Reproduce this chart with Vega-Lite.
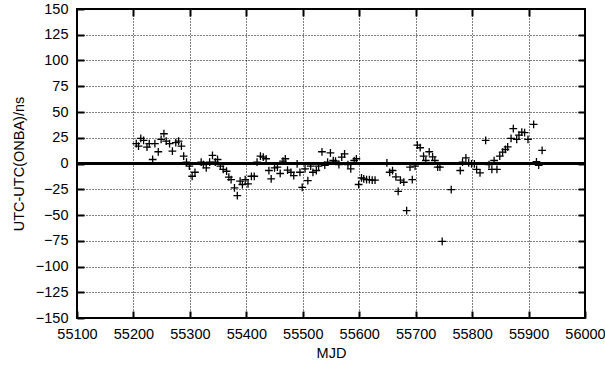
{
  "$schema": "https://vega.github.io/schema/vega-lite/v6.json",
  "width": 508,
  "height": 309,
  "autosize": {"type": "none"},
  "padding": {"left": 77, "top": 9, "right": 20, "bottom": 48},
  "background": "white",
  "config": {
    "view": {"stroke": "black", "strokeWidth": 2},
    "font": "Liberation Sans",
    "axis": {
      "labelFont": "Liberation Sans",
      "titleFont": "Liberation Sans",
      "labelFontSize": 14.5,
      "titleFontSize": 14.5,
      "labelColor": "black",
      "titleColor": "black",
      "titleFontWeight": "normal",
      "domain": false,
      "tickColor": "black",
      "tickWidth": 2,
      "tickSize": -7,
      "labelOverlap": false,
      "labelFlush": false
    }
  },
  "resolve": {"axis": {"x": "independent", "y": "independent"}},
  "data": {"values": [
    {"mjd": 55205, "v": 19.2}, {"mjd": 55209, "v": 16.9}, {"mjd": 55213, "v": 24.3}, {"mjd": 55218, "v": 22.4},
    {"mjd": 55224, "v": 15.9}, {"mjd": 55228, "v": 19.2}, {"mjd": 55234, "v": 3.9}, {"mjd": 55238, "v": 19.2},
    {"mjd": 55244, "v": 11.4}, {"mjd": 55249, "v": 23.4}, {"mjd": 55254, "v": 28.9}, {"mjd": 55258, "v": 21.7},
    {"mjd": 55264, "v": 19.2}, {"mjd": 55269, "v": 12}, {"mjd": 55275, "v": 20.2}, {"mjd": 55280, "v": 21.7},
    {"mjd": 55285, "v": 16.9}, {"mjd": 55289, "v": 7.1}, {"mjd": 55294, "v": 1.3}, {"mjd": 55299, "v": -2.6},
    {"mjd": 55304, "v": -12.4}, {"mjd": 55309, "v": -8.5}, {"mjd": 55320, "v": 1.3}, {"mjd": 55324, "v": -1},
    {"mjd": 55329, "v": -4.2}, {"mjd": 55335, "v": 1.3}, {"mjd": 55340, "v": 7.8}, {"mjd": 55345, "v": 1.3},
    {"mjd": 55349, "v": 3.9}, {"mjd": 55354, "v": -2.6}, {"mjd": 55359, "v": -5.8}, {"mjd": 55365, "v": -7.5},
    {"mjd": 55369, "v": -13.3}, {"mjd": 55373, "v": -15.6}, {"mjd": 55379, "v": -23.7}, {"mjd": 55384, "v": -31.2},
    {"mjd": 55389, "v": -17.2}, {"mjd": 55393, "v": -20.4}, {"mjd": 55398, "v": -15.6}, {"mjd": 55403, "v": -19.8},
    {"mjd": 55409, "v": -12.4}, {"mjd": 55414, "v": -12.4}, {"mjd": 55419, "v": 1.3}, {"mjd": 55425, "v": 7.1},
    {"mjd": 55430, "v": 6.1}, {"mjd": 55435, "v": 4.6}, {"mjd": 55440, "v": -6.8}, {"mjd": 55444, "v": -14.9},
    {"mjd": 55450, "v": -4.2}, {"mjd": 55455, "v": -3.6}, {"mjd": 55460, "v": -9.7}, {"mjd": 55465, "v": 2.3},
    {"mjd": 55469, "v": 4.6}, {"mjd": 55473, "v": -6.5}, {"mjd": 55479, "v": -8.5}, {"mjd": 55484, "v": -11.7},
    {"mjd": 55490, "v": -0.3}, {"mjd": 55495, "v": -8.5}, {"mjd": 55499, "v": -23.1}, {"mjd": 55504, "v": -5.2},
    {"mjd": 55509, "v": -16.6}, {"mjd": 55514, "v": -2.6}, {"mjd": 55518, "v": -8.5}, {"mjd": 55524, "v": -6.8},
    {"mjd": 55528, "v": -2.6}, {"mjd": 55534, "v": 11.4}, {"mjd": 55539, "v": -1.7}, {"mjd": 55544, "v": 1.3},
    {"mjd": 55549, "v": 10.4}, {"mjd": 55554, "v": 2.9}, {"mjd": 55558, "v": 2.3}, {"mjd": 55564, "v": -1},
    {"mjd": 55569, "v": 6.1}, {"mjd": 55574, "v": 9.4}, {"mjd": 55580, "v": -1}, {"mjd": 55585, "v": -5.2},
    {"mjd": 55591, "v": 2.9}, {"mjd": 55595, "v": 4.6}, {"mjd": 55599, "v": -20.4}, {"mjd": 55604, "v": -13.9},
    {"mjd": 55608, "v": -14.9}, {"mjd": 55613, "v": -15.6}, {"mjd": 55618, "v": -15.6}, {"mjd": 55623, "v": -16.2},
    {"mjd": 55628, "v": -16.2}, {"mjd": 55649, "v": 0.7}, {"mjd": 55654, "v": -8.5}, {"mjd": 55659, "v": -6.8},
    {"mjd": 55665, "v": -13}, {"mjd": 55669, "v": -27}, {"mjd": 55673, "v": -16.2}, {"mjd": 55679, "v": -18.2},
    {"mjd": 55684, "v": -45.8}, {"mjd": 55690, "v": -3.6}, {"mjd": 55694, "v": -15.6}, {"mjd": 55699, "v": -2.6},
    {"mjd": 55703, "v": 17.8}, {"mjd": 55708, "v": 15.3}, {"mjd": 55714, "v": 7.1}, {"mjd": 55718, "v": 2.9},
    {"mjd": 55724, "v": 11.4}, {"mjd": 55730, "v": 6.5}, {"mjd": 55734, "v": 2.9}, {"mjd": 55739, "v": -3.6},
    {"mjd": 55743, "v": -3.6}, {"mjd": 55747, "v": -75.7}, {"mjd": 55763, "v": -25.3}, {"mjd": 55779, "v": -6.8},
    {"mjd": 55783, "v": 1.3}, {"mjd": 55789, "v": 5.5}, {"mjd": 55794, "v": 0.7}, {"mjd": 55799, "v": -0.3},
    {"mjd": 55804, "v": -0.3}, {"mjd": 55808, "v": -5.8}, {"mjd": 55814, "v": -9.1}, {"mjd": 55824, "v": 22.4},
    {"mjd": 55830, "v": -1}, {"mjd": 55835, "v": -5.8}, {"mjd": 55839, "v": 2.9}, {"mjd": 55844, "v": -5.8},
    {"mjd": 55849, "v": 7.1}, {"mjd": 55854, "v": 11}, {"mjd": 55859, "v": 13.6}, {"mjd": 55863, "v": 16.2},
    {"mjd": 55869, "v": 24.3}, {"mjd": 55873, "v": 33.8}, {"mjd": 55879, "v": 23.4}, {"mjd": 55883, "v": 27.6},
    {"mjd": 55888, "v": 30.5}, {"mjd": 55893, "v": 29.9}, {"mjd": 55899, "v": 23.4}, {"mjd": 55909, "v": 38},
    {"mjd": 55914, "v": 1.7}, {"mjd": 55918, "v": -1.7}, {"mjd": 55924, "v": 12.7}
  ]},
  "layer": [
    {
      "mark": {"type": "rule", "color": "black", "strokeWidth": 2.5},
      "encoding": {
        "x": {"datum": 55100, "type": "quantitative", "scale": {"domain": [55100, 56000], "nice": false, "zero": false},
          "axis": {"orient": "top", "values": [55200, 55300, 55400, 55500, 55600, 55700, 55800, 55900], "labels": false, "title": null, "grid": false}},
        "x2": {"datum": 56000},
        "y": {"datum": 0, "type": "quantitative", "scale": {"domain": [-150, 150], "nice": false},
          "axis": {"orient": "right", "values": [-125, -100, -75, -50, -25, 0, 25, 50, 75, 100, 125], "labels": false, "title": null, "grid": false}}
      }
    },
    {
      "mark": {"type": "point", "shape": "M-1,0H1M0,-1V1", "filled": false, "stroke": "black", "strokeWidth": 1.3, "size": 60, "opacity": 1},
      "encoding": {
        "x": {
          "field": "mjd", "type": "quantitative",
          "scale": {"domain": [55100, 56000], "nice": false, "zero": false},
          "axis": {"values": [55100, 55200, 55300, 55400, 55500, 55600, 55700, 55800, 55900, 56000], "format": "d", "title": "MJD", "labelPadding": 16, "titlePadding": 6,
            "grid": true, "gridColor": "black", "gridDash": [1, 2], "gridWidth": 1, "gridOpacity": 1}
        },
        "y": {
          "field": "v", "type": "quantitative",
          "scale": {"domain": [-150, 150], "nice": false},
          "axis": {"values": [-150, -125, -100, -75, -50, -25, 0, 25, 50, 75, 100, 125, 150], "title": "UTC-UTC(ONBA)/ns", "labelPadding": 16, "titlePadding": 9,
            "grid": true, "gridColor": "black", "gridDash": [1, 2], "gridWidth": 1, "gridOpacity": 1}
        }
      }
    }
  ]
}
